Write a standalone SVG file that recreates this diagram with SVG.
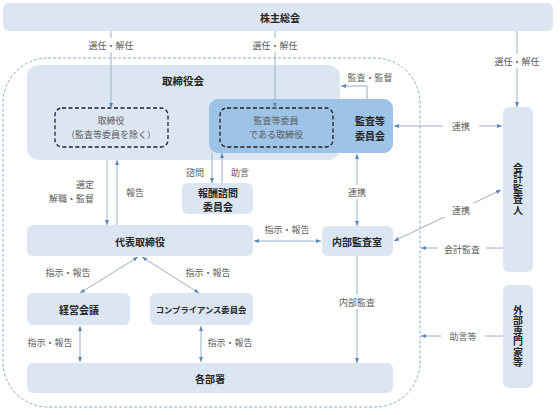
<svg xmlns="http://www.w3.org/2000/svg" width="560" height="415" viewBox="0 0 560 415">
<style>
.box{fill:#dce6f2;}
.dark{fill:#9dc3e6;}
.dash{fill:none;stroke:#1f1f1f;stroke-width:1.3;stroke-dasharray:4,2.5;}
.outer{fill:none;stroke:#8faac8;stroke-width:1;stroke-dasharray:3,2;}
.ln{fill:none;stroke:#9bb0c8;stroke-width:1;}
.b{font-family:"Noto Sans CJK JP","Noto Sans",sans-serif;font-weight:bold;font-size:10px;fill:#262626;text-anchor:middle;dominant-baseline:central;}
.t{font-family:"Noto Sans CJK JP","Noto Sans",sans-serif;font-size:9px;fill:#595959;text-anchor:middle;dominant-baseline:central;}
.v{writing-mode:vertical-rl;text-orientation:upright;letter-spacing:0.5px;}
.w{fill:#ffffff;}
</style>
<defs>
<marker id="ah" viewBox="0 0 10 10" refX="10" refY="5" markerWidth="5" markerHeight="5" orient="auto-start-reverse" markerUnits="userSpaceOnUse">
<path d="M0,1 L10,5 L0,9 z" fill="#5b87b8"/>
</marker>
</defs>
<rect width="560" height="415" fill="#ffffff"/>

<rect class="outer" x="3" y="58" width="417" height="349" rx="45"/>

<g id="kabunushi">
<rect class="box" x="3" y="3" width="550" height="28" rx="6"/>
<text class="b" x="280" y="17">株主総会</text>
</g>

<g id="torishimariyakukai">
<rect class="box" x="27" y="65" width="313" height="95" rx="12"/>
<text class="b" x="183" y="80" style="font-size:10.5px">取締役会</text>
</g>

<g id="torishimariyaku">
<rect class="dash" x="55" y="108" width="113" height="39" rx="7"/>
<text class="t" x="111" y="120">取締役</text>
<text class="t" x="111" y="134">（監査等委員を除く）</text>
</g>

<g id="kansa-iinkai">
<rect class="dark" x="209" y="99" width="184" height="54" rx="9"/>
<rect class="dash" x="220" y="108" width="113" height="39" rx="7"/>
<text class="t" x="276" y="120">監査等委員</text>
<text class="t" x="276" y="134">である取締役</text>
<text class="b" x="370" y="120">監査等</text>
<text class="b" x="370" y="135">委員会</text>
</g>

<g id="houshu">
<rect class="box" x="182" y="183" width="71" height="31" rx="6"/>
<text class="b" x="218" y="192">報酬諮問</text>
<text class="b" x="218" y="206">委員会</text>
</g>

<g id="daihyo">
<rect class="box" x="27" y="225" width="226" height="31" rx="6"/>
<text class="b" x="140" y="241">代表取締役</text>
</g>

<g id="naibu-kansa">
<rect class="box" x="322" y="226" width="71" height="30" rx="6"/>
<text class="b" x="357" y="241">内部監査室</text>
</g>

<g id="keiei">
<rect class="box" x="27" y="293" width="103" height="32" rx="6"/>
<text class="b" x="79" y="309">経営会議</text>
</g>

<g id="compliance">
<rect class="box" x="150" y="293" width="103" height="32" rx="6"/>
<text class="b" x="201" y="309" style="font-size:8.3px">コンプライアンス委員会</text>
</g>

<g id="kakubusho">
<rect class="box" x="27" y="363" width="366" height="30" rx="6"/>
<text class="b" x="210" y="378">各部署</text>
</g>

<g id="kaikei">
<rect class="box" x="503" y="107" width="30" height="165" rx="6"/>
<text class="b v" x="518" y="189">会計監査人</text>
</g>

<g id="gaibu">
<rect class="box" x="503" y="285" width="30" height="103" rx="6"/>
<text class="b v" x="518" y="336.5">外部専門家等</text>
</g>

<g id="connectors">
<path class="ln" d="M111,31 V108" marker-end="url(#ah)"/>
<path class="ln" d="M275,31 V108" marker-end="url(#ah)"/>
<path class="ln" d="M517,31 V107" marker-end="url(#ah)"/>
<path class="ln" d="M367,99 V86 H341" marker-end="url(#ah)"/>
<path class="ln" d="M394,126 H502" marker-start="url(#ah)" marker-end="url(#ah)"/>
<path class="ln" d="M357,154 V226" marker-start="url(#ah)" marker-end="url(#ah)"/>
<path class="ln" d="M394,241 L501,190" marker-start="url(#ah)" marker-end="url(#ah)"/>
<path class="ln" d="M503,248 H421" marker-end="url(#ah)"/>
<path class="ln" d="M503,336 H421" marker-end="url(#ah)"/>
<path class="ln" d="M357,256 V363" marker-end="url(#ah)"/>
<path class="ln" d="M107,160 V225" marker-end="url(#ah)"/>
<path class="ln" d="M117,225 V160" marker-end="url(#ah)"/>
<path class="ln" d="M212,153 V183" marker-end="url(#ah)"/>
<path class="ln" d="M222,183 V153" marker-end="url(#ah)"/>
<path class="ln" d="M254,241 H321" marker-start="url(#ah)" marker-end="url(#ah)"/>
<path class="ln" d="M138,257 L80,293" marker-start="url(#ah)" marker-end="url(#ah)"/>
<path class="ln" d="M142,257 L199,293" marker-start="url(#ah)" marker-end="url(#ah)"/>
<path class="ln" d="M80,326 V362" marker-start="url(#ah)" marker-end="url(#ah)"/>
<path class="ln" d="M201,326 V362" marker-start="url(#ah)" marker-end="url(#ah)"/>
</g>

<g id="labels">
<rect class="w" x="84" y="38" width="54" height="14"/>
<text class="t" x="111" y="45">選任・解任</text>
<rect class="w" x="248" y="38" width="54" height="14"/>
<text class="t" x="275" y="45">選任・解任</text>
<rect class="w" x="490" y="54" width="54" height="14"/>
<text class="t" x="517" y="61">選任・解任</text>
<text class="t" x="370" y="77">監査・監督</text>
<rect class="w" x="443" y="119" width="36" height="14"/>
<text class="t" x="461" y="126">連携</text>
<rect class="w" x="343" y="185" width="28" height="14"/>
<text class="t" x="357" y="192">連携</text>
<rect class="w" x="443" y="203" width="36" height="14"/>
<text class="t" x="461" y="210">連携</text>
<rect class="w" x="438" y="241" width="48" height="14"/>
<text class="t" x="462" y="249">会計監査</text>
<rect class="w" x="441" y="329" width="44" height="14"/>
<text class="t" x="463" y="336">助言等</text>
<rect class="w" x="334" y="295" width="46" height="14"/>
<text class="t" x="357" y="302">内部監査</text>
<text class="t" x="94" y="184" style="text-anchor:end">選定</text>
<text class="t" x="94" y="198" style="text-anchor:end">解職・監督</text>
<text class="t" x="135" y="192">報告</text>
<text class="t" x="195" y="172">諮問</text>
<text class="t" x="240" y="172">助言</text>
<text class="t" x="287" y="229">指示・報告</text>
<text class="t" x="68" y="272">指示・報告</text>
<text class="t" x="208" y="272">指示・報告</text>
<text class="t" x="50" y="342">指示・報告</text>
<text class="t" x="230" y="342">指示・報告</text>
</g>
</svg>
